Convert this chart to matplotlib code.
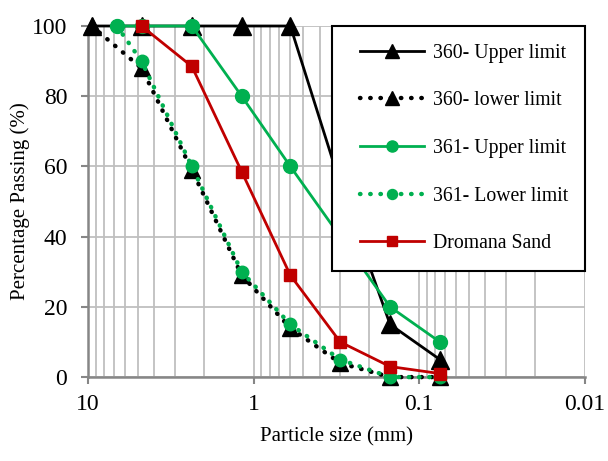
import matplotlib
matplotlib.use("Agg")
import matplotlib.pyplot as plt
from matplotlib.lines import Line2D
from matplotlib.legend_handler import HandlerLine2D
import numpy as np

plt.rcParams['font.family'] = ['Liberation Serif', 'DejaVu Serif']

# sieve sizes (mm) and percentage passing
sizes_360 = [9.5, 4.75, 2.36, 1.18, 0.6, 0.3, 0.15, 0.075]
upper_360 = [100, 100, 100, 100, 100, 55, 15, 5]
lower_360 = [100, 88, 59, 29, 14, 4, 0, 0]

sizes_361 = [6.7, 4.75, 2.36, 1.18, 0.6, 0.3, 0.15, 0.075]
upper_361 = [100, 100, 100, 80, 60, 40, 20, 10]
lower_361 = [100, 90, 60, 30, 15, 5, 0, 0]

sizes_sand = [4.75, 2.36, 1.18, 0.6, 0.3, 0.15, 0.075]
dromana = [100, 88.5, 58.5, 29, 10, 3, 1]

green = '#00B050'
red = '#C00000'
dots = (0, (0.1, 2.2))

fig = plt.figure(figsize=(6.08, 4.61), dpi=100)
ax = fig.add_axes([0.1447, 0.182, 0.8173, 0.7616])

ax.plot(sizes_360, upper_360, color='black', lw=2, marker='^', ms=13,
        label='360- Upper limit', zorder=3, clip_on=False)
ax.plot(sizes_360, lower_360, color='black', lw=3.2, ls=dots, dash_capstyle='round',
        marker='^', ms=12, label='360- lower limit', zorder=4, clip_on=False)
ax.plot(sizes_361, upper_361, color=green, lw=2, marker='o', ms=10,
        label='361- Upper limit', zorder=5, clip_on=False)
ax.plot(sizes_361, lower_361, color=green, lw=3.2, ls=dots, dash_capstyle='round',
        marker='o', ms=9, label='361- Lower limit', zorder=6, clip_on=False)
ax.plot(sizes_sand, dromana, color=red, lw=2, marker='s', ms=9,
        label='Dromana Sand', zorder=7, clip_on=False)

ax.set_xscale('log')
ax.set_xlim(10, 0.01)
ax.set_ylim(0, 100)
ax.set_yticks(np.arange(0, 101, 20))
ax.set_xticks([10, 1, 0.1, 0.01])
ax.set_xticklabels(['10', '1', '0.1', '0.01'])
ax.xaxis.set_minor_formatter(matplotlib.ticker.NullFormatter())

ax.grid(True, which='both', axis='x', color='#BFBFBF', lw=1.3)
ax.grid(True, which='major', axis='y', color='#BFBFBF', lw=1.3)
ax.set_axisbelow(True)

for s in ['top', 'right']:
    ax.spines[s].set_visible(False)
for s in ['left', 'bottom']:
    ax.spines[s].set_color('#868686')
    ax.spines[s].set_linewidth(1.8)
ax.tick_params(axis='both', which='major', length=5, width=1.5, color='#868686',
               labelsize=17)
ax.tick_params(axis='y', which='major', pad=10)
ax.tick_params(axis='x', which='minor', length=0)
ax.tick_params(axis='x', which='major', pad=7)

ax.set_xlabel('Particle size (mm)', fontsize=15, labelpad=9)
ax.set_ylabel('Percentage Passing (%)', fontsize=15, labelpad=1)

leg = ax.legend(loc='upper left', bbox_to_anchor=(0.491, 0.305, 0.509, 0.695),
                mode='expand', borderaxespad=0,
                fontsize=14.2, numpoints=1, markerscale=0.8, handlelength=3.75,
                labelspacing=1.45, borderpad=0.9, handletextpad=0.45,
                fancybox=False, framealpha=1,
                handler_map={Line2D: HandlerLine2D(xpad=0.5)})
leg.get_frame().set_edgecolor('black')
leg.get_frame().set_linewidth(1.5)
leg.set_zorder(10)

fig.savefig('out.png', dpi=100)
